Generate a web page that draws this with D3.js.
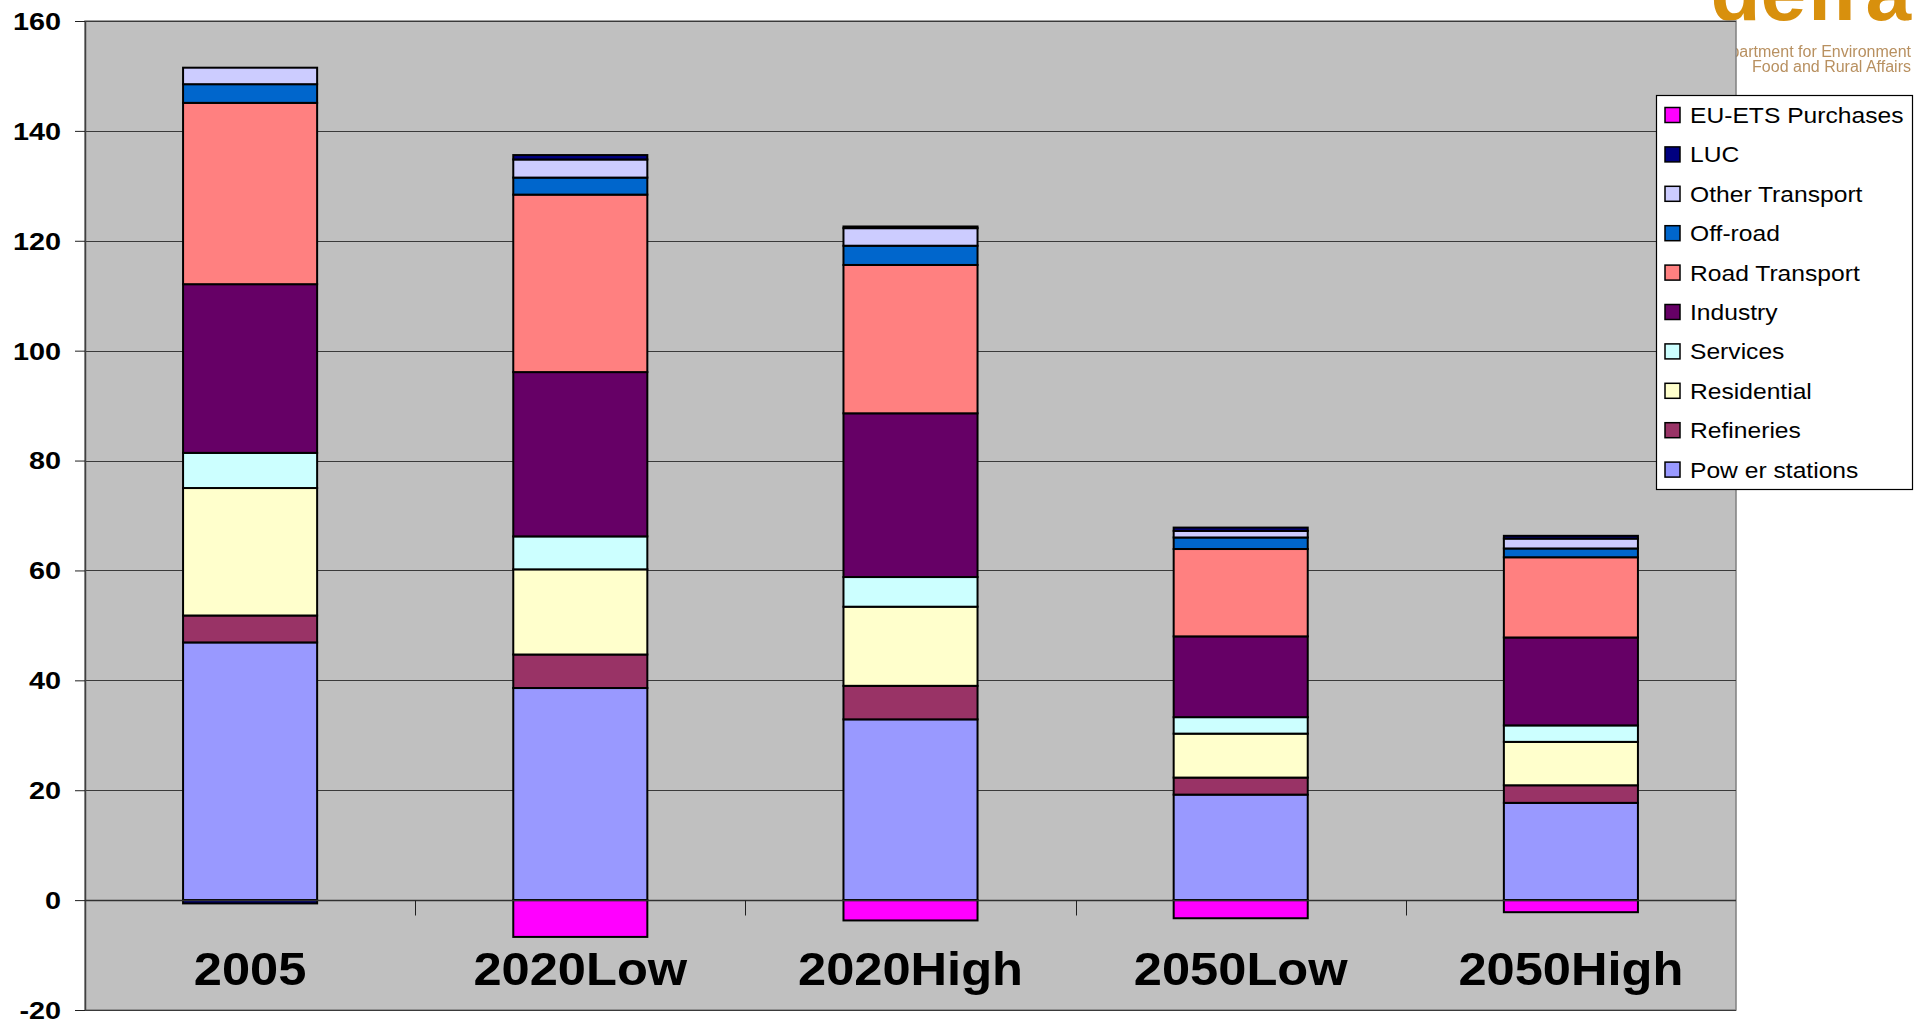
<!DOCTYPE html>
<html>
<head>
<meta charset="utf-8">
<script src="https://cdn.jsdelivr.net/npm/d3@7"></script>
<style>
  html, body { margin: 0; padding: 0; background: #ffffff; }
  svg { display: block; }
  text { font-family: "Liberation Sans", Arial, Helvetica, sans-serif; }
</style>
</head>
<body>
<svg id="chart" width="1925" height="1023"></svg>
<script>
// Emission scenarios (MtC), stacked by sector
const categories = ["2005", "2020Low", "2020High", "2050Low", "2050High"];

const powerStations  = [46.9, 38.6, 32.9, 19.2, 17.7];
const refineries     = [4.9, 6.1, 6.1, 3.1, 3.2];
const residential    = [23.2, 15.5, 14.4, 8.0, 7.9];
const services       = [6.4, 6.0, 5.4, 3.0, 3.0];
const industry       = [30.7, 29.9, 29.8, 14.7, 16.0];
const roadTransport  = [33.0, 32.3, 27.0, 15.9, 14.6];
const offRoad        = [3.4, 3.1, 3.5, 2.1, 1.6];
const otherTransport = [3.0, 3.3, 3.2, 1.2, 1.8];
const luc            = [-0.6, 0.8, 0.3, 0.6, 0.5];
const euEtsPurchases = [0, -6.7, -3.7, -3.3, -2.2];

// Series in stacking order (bottom to top)
const seriesNames = ["Pow er stations", "Refineries", "Residential", "Services", "Industry",
                     "Road Transport", "Off-road", "Other Transport", "LUC", "EU-ETS Purchases"];
const seriesValues = [powerStations, refineries, residential, services, industry,
                      roadTransport, offRoad, otherTransport, luc, euEtsPurchases];
const seriesColors = ["#9999FF", "#993366", "#FFFFCC", "#CCFFFF", "#660066",
                      "#FF8080", "#0066CC", "#CCCCFF", "#000080", "#FF00FF"];

const yTicks = [-20, 0, 20, 40, 60, 80, 100, 120, 140, 160];

// Layout
const plot = { left: 85, right: 1736, top: 21, bottom: 1010 };
const svg = d3.select("#chart");

// Rows for d3.stack
const rows = categories.map((c, i) => {
  const r = { category: c };
  seriesNames.forEach((s, j) => { r[s] = seriesValues[j][i]; });
  return r;
});
const stacked = d3.stack().keys(seriesNames).offset(d3.stackOffsetDiverging)(rows);

const x = d3.scaleBand().domain(categories).range([plot.left, plot.right]).padding(0);
const y = d3.scaleLinear().domain([-20, 160]).range([plot.bottom, plot.top]);
const color = d3.scaleOrdinal().domain(seriesNames).range(seriesColors);
const barFrac = 0.406;

// Logo in the upper right corner (drawn first; the plot area sits over its edge)
svg.append("defs").append("filter").attr("id", "soft")
  .append("feGaussianBlur").attr("stdDeviation", 0.7);
const logo = svg.append("g").attr("filter", "url(#soft)");
logo.append("text")
  .attr("x", 1911).attr("y", 20)
  .attr("text-anchor", "end")
  .attr("font-size", 82).attr("font-weight", "bold")
  .attr("fill", "#D8900E")
  .text("defra");
logo.append("text")
  .attr("x", 1911).attr("y", 57)
  .attr("text-anchor", "end")
  .attr("font-size", 16)
  .attr("fill", "#B89060")
  .text("Department for Environment");
logo.append("text")
  .attr("x", 1911).attr("y", 72)
  .attr("text-anchor", "end")
  .attr("font-size", 16)
  .attr("fill", "#B89060")
  .text("Food and Rural Affairs");

// Plot area
svg.append("rect")
  .attr("x", plot.left).attr("y", plot.top)
  .attr("width", plot.right - plot.left).attr("height", plot.bottom - plot.top)
  .attr("fill", "#C0C0C0")
  .attr("stroke", "#808080").attr("stroke-width", 1.5);

// Horizontal gridlines
svg.append("g")
  .selectAll("line")
  .data(yTicks)
  .join("line")
  .attr("x1", plot.left).attr("x2", plot.right)
  .attr("y1", d => Math.round(y(d)) + 0.5).attr("y2", d => Math.round(y(d)) + 0.5)
  .attr("stroke", "#3a3a3a").attr("stroke-width", 1);

// Stacked bars
svg.append("g")
  .selectAll("g")
  .data(stacked)
  .join("g")
  .attr("fill", d => color(d.key))
  .selectAll("rect")
  .data(d => d.filter(p => p[1] !== p[0]))
  .join("rect")
  .attr("x", d => x(d.data.category) + x.bandwidth() * (1 - barFrac) / 2)
  .attr("width", x.bandwidth() * barFrac)
  .attr("y", d => y(Math.max(d[0], d[1])))
  .attr("height", d => Math.abs(y(d[0]) - y(d[1])))
  .attr("stroke", "#000").attr("stroke-width", 2);

// Y axis
const yAxis = svg.append("g")
  .attr("transform", `translate(${plot.left},0)`)
  .call(d3.axisLeft(y).tickValues(yTicks).tickSize(10).tickSizeOuter(0).tickFormat(d => String(d)));
yAxis.select(".domain").attr("stroke", "#404040").attr("stroke-width", 1.5);
yAxis.selectAll(".tick line").attr("stroke", "#202020");
yAxis.selectAll(".tick text")
  .attr("x", 0).attr("dy", null)
  .attr("transform", "translate(-24,8.4) scale(1.2,1)")
  .attr("text-anchor", "end")
  .attr("font-size", 24).attr("font-weight", "bold")
  .attr("font-family", "\"Liberation Sans\", Arial, sans-serif")
  .attr("fill", "#000");

// Category axis along zero, with ticks between categories
const zeroY = Math.round(y(0)) + 0.5;
svg.append("line")
  .attr("x1", plot.left).attr("x2", plot.right)
  .attr("y1", zeroY).attr("y2", zeroY)
  .attr("stroke", "#303030").attr("stroke-width", 1.5);
svg.append("g")
  .selectAll("line")
  .data(categories.slice(1))
  .join("line")
  .attr("x1", d => Math.round(x(d)) + 0.5).attr("x2", d => Math.round(x(d)) + 0.5)
  .attr("y1", zeroY).attr("y2", zeroY + 15)
  .attr("stroke", "#202020").attr("stroke-width", 1);

svg.append("g")
  .selectAll("text")
  .data(categories)
  .join("text")
  .attr("transform", d => `translate(${x(d) + x.bandwidth() / 2},985) scale(1.1,1)`)
  .attr("text-anchor", "middle")
  .attr("font-size", 46).attr("font-weight", "bold")
  .attr("fill", "#000")
  .text(d => d);

// Legend (top entry is the last series)
const legend = svg.append("g");
legend.append("rect")
  .attr("x", 1656.5).attr("y", 95.5)
  .attr("width", 256).attr("height", 394)
  .attr("fill", "#fff").attr("stroke", "#000").attr("stroke-width", 1.2);
const legendItems = seriesNames.slice().reverse();
const item = legend.selectAll("g.item")
  .data(legendItems)
  .join("g")
  .attr("class", "item")
  .attr("transform", (d, i) => `translate(0,${115 + i * 39.4})`);
item.append("rect")
  .attr("x", 1665).attr("y", -7.5)
  .attr("width", 15).attr("height", 15)
  .attr("fill", d => color(d))
  .attr("stroke", "#000").attr("stroke-width", 1.5);
item.append("text")
  .attr("transform", "translate(1690,7.9) scale(1.12,1)")
  .attr("font-size", 22)
  .attr("fill", "#000")
  .text(d => d);
</script>
</body>
</html>
